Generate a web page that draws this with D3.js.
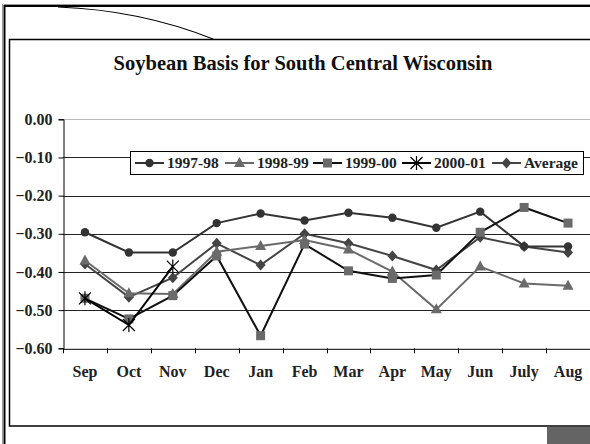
<!DOCTYPE html>
<html><head><meta charset="utf-8">
<script src="https://cdn.jsdelivr.net/npm/d3@7"></script>
<style>body{margin:0;background:#fff}svg{display:block}</style>
</head><body>
<svg id="c" width="590" height="444"></svg>
<script>
const months = ["Sep","Oct","Nov","Dec","Jan","Feb","Mar","Apr","May","Jun","July","Aug"];
const s1997 = [-0.296,-0.349,-0.349,-0.272,-0.247,-0.265,-0.245,-0.258,-0.284,-0.242,-0.333,-0.333];
const s1998 = [-0.370,-0.456,-0.458,-0.347,-0.332,-0.316,-0.341,-0.399,-0.498,-0.386,-0.430,-0.436];
const s1999 = [-0.469,-0.523,-0.462,-0.358,-0.567,-0.327,-0.397,-0.417,-0.408,-0.296,-0.231,-0.272];
const s2000 = [-0.469,-0.539,-0.386,null,null,null,null,null,null,null,null,null];
const sAvg  = [-0.379,-0.466,-0.415,-0.325,-0.382,-0.300,-0.325,-0.358,-0.395,-0.309,-0.333,-0.349];
const yTicks = [0,-0.1,-0.2,-0.3,-0.4,-0.5,-0.6];
const seriesNames = ["1997-98","1998-99","1999-00","2000-01","Average"];

const series = [
  {name:seriesNames[0], values:s1997, line:"#333", mark:"#333", sym:"circle"},
  {name:seriesNames[1], values:s1998, line:"#6a6a6a", mark:"#6a6a6a", sym:"triangle"},
  {name:seriesNames[2], values:s1999, line:"#111", mark:"#6a6a6a", sym:"square"},
  {name:seriesNames[3], values:s2000, line:"#000", mark:"#000", sym:"star"},
  {name:seriesNames[4], values:sAvg,  line:"#444", mark:"#444", sym:"diamond"}
];

const svg = d3.select("#c");
const font = "'Liberation Serif','Times New Roman',serif";

// slide frame
svg.append("line").attr("x1",2.5).attr("x2",2.5).attr("y1",4).attr("y2",444).attr("stroke","#999").attr("stroke-width",1);
svg.append("line").attr("x1",4.5).attr("x2",4.5).attr("y1",5).attr("y2",444).attr("stroke","#000").attr("stroke-width",2);
svg.append("line").attr("x1",4).attr("x2",590).attr("y1",4.5).attr("y2",4.5).attr("stroke","#999").attr("stroke-width",1);
svg.append("line").attr("x1",4).attr("x2",590).attr("y1",6).attr("y2",6).attr("stroke","#000").attr("stroke-width",2);
svg.append("path").attr("d","M58,7 Q140,10 213,39").attr("fill","none").attr("stroke","#000").attr("stroke-width",1.2);
// inner box
svg.append("path").attr("d","M590,39.5 H9.5 V426 H590").attr("fill","none").attr("stroke","#000").attr("stroke-width",1.5);
svg.append("rect").attr("x",547).attr("y",427).attr("width",43).attr("height",17).attr("fill","#646464");

// title
svg.append("text").attr("x",303).attr("y",69.5).attr("text-anchor","middle")
  .attr("font-family",font).attr("font-weight","bold").attr("font-size",20.5).attr("fill","#111")
  .text("Soybean Basis for South Central Wisconsin");

const L = 63, R = 590, T = 119.3, B = 348.3;
const x = d3.scaleBand().domain(months).range([L,R]);
const y = d3.scaleLinear().domain([-0.6,0]).range([B,T]);

// gridlines
svg.append("g").selectAll("line").data(yTicks.filter(v=>v>-0.6)).join("line")
  .attr("x1",L).attr("x2",R).attr("y1",d=>Math.round(y(d))+0.5).attr("y2",d=>Math.round(y(d))+0.5)
  .attr("stroke",d=>d===0?"#bbb":"#222").attr("stroke-width",1);

// y axis
const ya = svg.append("g").attr("transform",`translate(${L+0.5},0)`)
  .call(d3.axisLeft(y).tickValues(yTicks).tickFormat(d3.format(".2f")).tickSize(5).tickPadding(6));
ya.select(".domain").attr("stroke","#000");
ya.selectAll("text").attr("font-family",font).attr("font-weight","bold").attr("font-size",16).attr("fill","#222")
  .text(d=>d===0?"0.00":d3.format(".2f")(d));

// x axis
const xa = svg.append("g").attr("transform",`translate(0,${B+0.5})`)
  .call(d3.axisBottom(x).tickSize(0).tickPadding(0));
xa.select(".domain").attr("stroke","#000");
xa.selectAll("text").attr("font-family",font).attr("font-weight","bold").attr("font-size",16).attr("fill","#222")
  .attr("dy",null).attr("y",28.5);
svg.append("g").selectAll("line").data(months.concat(["__end"])).join("line")
  .attr("x1",(d,i)=>Math.round(L+i*x.step())+0.5).attr("x2",(d,i)=>Math.round(L+i*x.step())+0.5)
  .attr("y1",B).attr("y2",B+5).attr("stroke","#000");

const cx = m => x(m)+x.bandwidth()/2;

function drawMarker(g, sym, px, py, color){
  if(sym==="circle") g.append("circle").attr("cx",px).attr("cy",py).attr("r",4.2).attr("fill",color);
  else if(sym==="triangle") g.append("path").attr("d",`M${px},${py-6} L${px+5.5},${py+4} L${px-5.5},${py+4}Z`).attr("fill",color);
  else if(sym==="square") g.append("rect").attr("x",px-4.5).attr("y",py-4.5).attr("width",9).attr("height",9).attr("fill",color);
  else if(sym==="diamond") g.append("path").attr("d",`M${px},${py-5.5} L${px+5},${py} L${px},${py+5.5} L${px-5},${py}Z`).attr("fill",color);
  else if(sym==="star") g.append("path").attr("d",`M${px-6},${py-6} L${px+6},${py+6} M${px-6},${py+6} L${px+6},${py-6} M${px},${py-7} L${px},${py+7}`).attr("stroke",color).attr("stroke-width",1.2).attr("fill","none");
}

const lineGen = d3.line().defined(d=>d.v!==null).x(d=>cx(d.m)).y(d=>y(d.v));
const order = [4,0,1,2,3];
order.forEach(i=>{
  const s = series[i];
  const pts = months.map((m,j)=>({m, v:s.values[j]}));
  const g = svg.append("g");
  g.append("path").datum(pts).attr("d",lineGen).attr("fill","none").attr("stroke",s.line).attr("stroke-width",2);
  pts.filter(d=>d.v!==null).forEach(d=>drawMarker(g,s.sym,cx(d.m),y(d.v),s.mark));
});

// legend
const lg = svg.append("g");
lg.append("rect").attr("x",130.5).attr("y",151.5).attr("width",453).attr("height",23).attr("fill","#fff").attr("stroke","#000").attr("stroke-width",1);
const lx = [135,225,313,402,492];
series.forEach((s,i)=>{
  const x0 = lx[i], yy = 163;
  lg.append("line").attr("x1",x0).attr("x2",x0+29).attr("y1",yy).attr("y2",yy).attr("stroke",s.line).attr("stroke-width",2);
  drawMarker(lg,s.sym,x0+14.5,yy,s.mark);
  lg.append("text").attr("x",x0+32).attr("y",yy+5).attr("font-family",font).attr("font-weight","bold").attr("font-size",15.5).attr("fill","#222").text(s.name);
});
</script>
</body></html>
